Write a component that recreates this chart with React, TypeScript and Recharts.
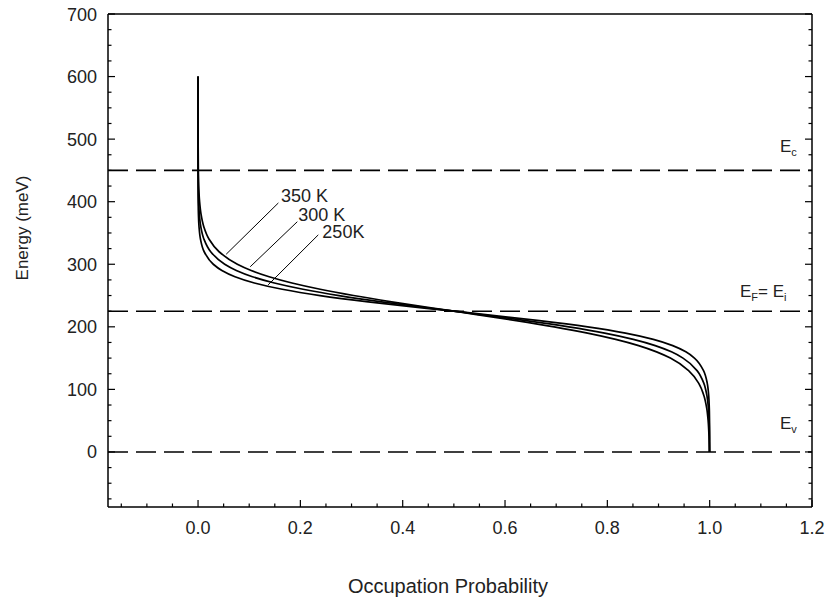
import React from 'react';
import { ComposedChart, Line, XAxis, YAxis, ReferenceLine, ReferenceDot } from 'recharts';

// Energy levels (meV) at which occupation probability was read
const ENERGY_MEV = [600, 550, 500, 450, 420, 400, 380, 360, 340, 320, 300, 290, 280, 270, 260, 250, 240, 230, 225, 220, 210, 200, 190, 180, 170, 160, 150, 130, 110, 90, 70, 50, 25, 0];
const PROB_350K = [0, 0.00002, 0.00011, 0.00058, 0.00155, 0.00301, 0.00583, 0.01125, 0.0216, 0.0411, 0.0768, 0.1038, 0.1389, 0.1836, 0.2387, 0.3039, 0.3782, 0.4586, 0.5, 0.5414, 0.6218, 0.6961, 0.7613, 0.8164, 0.8611, 0.8962, 0.9232, 0.9588, 0.9784, 0.9888, 0.9942, 0.997, 0.9987, 0.9994];
const PROB_300K = [0, 0, 0.00002, 0.00017, 0.00053, 0.00115, 0.00248, 0.00537, 0.01156, 0.0247, 0.0521, 0.0748, 0.1064, 0.1492, 0.2052, 0.2755, 0.3588, 0.4519, 0.5, 0.5481, 0.6412, 0.7245, 0.7948, 0.8508, 0.8936, 0.9252, 0.9479, 0.9753, 0.9885, 0.9946, 0.9975, 0.9989, 0.9996, 0.9998];
const PROB_250K = [0, 0, 0, 0.00003, 0.00012, 0.0003, 0.00075, 0.0019, 0.0048, 0.012, 0.0298, 0.0466, 0.0722, 0.1101, 0.1645, 0.2385, 0.3327, 0.4422, 0.5, 0.5578, 0.6673, 0.7615, 0.8355, 0.8899, 0.9278, 0.9534, 0.9702, 0.988, 0.9952, 0.9981, 0.99925, 0.9997, 0.9999, 1.0];

const X_TICKS = [-0.15, -0.1, -0.05, 0, 0.05, 0.1, 0.15, 0.2, 0.25, 0.3, 0.35, 0.4, 0.45, 0.5, 0.55, 0.6, 0.65, 0.7, 0.75, 0.8, 0.85, 0.9, 0.95, 1.0, 1.05, 1.1, 1.15, 1.2];
const X_LABELED = [0, 0.2, 0.4, 0.6, 0.8, 1.0, 1.2];
const Y_TICKS = [-75, -50, -25, 0, 25, 50, 75, 100, 125, 150, 175, 200, 225, 250, 275, 300, 325, 350, 375, 400, 425, 450, 475, 500, 525, 550, 575, 600, 625, 650, 675, 700];
const Y_LABELED = [0, 100, 200, 300, 400, 500, 600, 700];

// Band energy levels (meV): Ec, EF = Ei, Ev
const LEVEL_EC = 450;
const LEVEL_EF = 225;
const LEVEL_EV = 0;

// Temperature annotations
const TEMP_LABELS = ['350 K', '300 K', '250K'];
const TEMP_LABEL_X = [0.162, 0.196, 0.243];
const TEMP_LABEL_Y = [400, 369, 342];
const LEADER_START_X = [0.157, 0.194, 0.235];
const LEADER_START_Y = [398, 368, 347];
const LEADER_END_X = [0.055, 0.102, 0.137];
const LEADER_END_Y = [316, 296, 267];

const FONT = '"Liberation Sans", Arial, sans-serif';
const TEXT = '#222';

const toSeries = (probs: number[]) => ENERGY_MEV.map((e, i) => ({ p: probs[i], e }));
const S350 = toSeries(PROB_350K);
const S300 = toSeries(PROB_300K);
const S250 = toSeries(PROB_250K);

const isMajor = (v: number, list: number[]) => list.some((m) => Math.abs(m - v) < 1e-6);

const BottomTick = (props: any) => {
  const { x, y, payload } = props;
  const major = isMajor(payload.value, X_LABELED);
  return (
    <g>
      <line x1={x} y1={y} x2={x} y2={y - (major ? 7 : 3.5)} stroke="#000" strokeWidth={1.2} />
      {major && (
        <text x={x} y={y + 27} textAnchor="middle" fontSize={18} fill={TEXT} fontFamily={FONT}>
          {payload.value.toFixed(1)}
        </text>
      )}
    </g>
  );
};

const TopTick = (props: any) => {
  const { x, y, payload } = props;
  const major = isMajor(payload.value, X_LABELED);
  return <line x1={x} y1={y} x2={x} y2={y + (major ? 7 : 3.5)} stroke="#000" strokeWidth={1.2} />;
};

const LeftTick = (props: any) => {
  const { x, y, payload } = props;
  const major = isMajor(payload.value, Y_LABELED);
  return (
    <g>
      <line x1={x} y1={y} x2={x + (major ? 7 : 3.5)} y2={y} stroke="#000" strokeWidth={1.2} />
      {major && (
        <text x={x - 11} y={y + 6.5} textAnchor="end" fontSize={18} fill={TEXT} fontFamily={FONT}>
          {String(payload.value)}
        </text>
      )}
    </g>
  );
};

const RightTick = (props: any) => {
  const { x, y, payload } = props;
  const major = isMajor(payload.value, Y_LABELED);
  return <line x1={x} y1={y} x2={x - (major ? 7 : 3.5)} y2={y} stroke="#000" strokeWidth={1.2} />;
};

const XTitle = (props: any) => {
  const vb = props.viewBox;
  return (
    <text x={vb.x + vb.width / 2 - 12} y={vb.y + 86} textAnchor="middle" fontSize={20} fill={TEXT} fontFamily={FONT}>
      Occupation Probability
    </text>
  );
};

const YTitle = (props: any) => {
  const vb = props.viewBox;
  const cx = vb.x - 26;
  const cy = vb.y + 214;
  return (
    <text x={cx} y={cy} transform={`rotate(-90 ${cx} ${cy})`} textAnchor="middle" dominantBaseline="central" fontSize={17} fill={TEXT} fontFamily={FONT}>
      Energy (meV)
    </text>
  );
};

const makeLevelLabel = (main1: string, sub1: string, main2: string | null, sub2: string | null, fromRight: number, above: number) => (props: any) => {
  const vb = props.viewBox;
  const x = vb.x + vb.width - fromRight;
  const y = vb.y - above;
  return (
    <text x={x} y={y} fontSize={17} fill={TEXT} fontFamily={FONT}>
      <tspan>{main1}</tspan>
      <tspan fontSize={11} dy={4}>{sub1}</tspan>
      {main2 !== null && <tspan fontSize={17} dy={-4}>{main2}</tspan>}
      {sub2 !== null && <tspan fontSize={11} dy={4}>{sub2}</tspan>}
    </text>
  );
};

const EcLabel = makeLevelLabel('E', 'c', null, null, 32, 18);
const EfLabel = makeLevelLabel('E', 'F', '= E', 'i', 72, 14);
const EvLabel = makeLevelLabel('E', 'v', null, null, 32, 23);

const makeTempText = (text: string) => (props: any) => (
  <text x={props.cx} y={props.cy} fontSize={18} fill={TEXT} fontFamily={FONT}>
    {text}
  </text>
);

export default function App() {
  return (
    <div style={{ position: 'absolute', left: 0, top: 0 }}>
      <ComposedChart width={830} height={605} margin={{ top: 13, right: 17, left: 48, bottom: 8 }}>
        <XAxis
          xAxisId={0}
          dataKey="p"
          type="number"
          domain={[-0.176, 1.2]}
          allowDataOverflow
          ticks={X_TICKS}
          interval={0}
          tickSize={0}
          tickMargin={0}
          tickLine={false}
          tick={<BottomTick />}
          axisLine={{ stroke: '#000', strokeWidth: 1.5 }}
          height={90}
          label={<XTitle />}
        />
        <XAxis
          xAxisId="top"
          orientation="top"
          type="number"
          domain={[-0.176, 1.2]}
          allowDataOverflow
          ticks={X_TICKS}
          interval={0}
          tickSize={0}
          tickMargin={0}
          tickLine={false}
          tick={<TopTick />}
          axisLine={{ stroke: '#000', strokeWidth: 1.5 }}
          height={1}
        />
        <YAxis
          yAxisId={0}
          type="number"
          domain={[-88, 700]}
          allowDataOverflow
          ticks={Y_TICKS}
          interval={0}
          tickSize={0}
          tickMargin={0}
          tickLine={false}
          tick={<LeftTick />}
          axisLine={{ stroke: '#000', strokeWidth: 1.5 }}
          width={60}
          label={<YTitle />}
        />
        <YAxis
          yAxisId="right"
          orientation="right"
          type="number"
          domain={[-88, 700]}
          allowDataOverflow
          ticks={Y_TICKS}
          interval={0}
          tickSize={0}
          tickMargin={0}
          tickLine={false}
          tick={<RightTick />}
          axisLine={{ stroke: '#000', strokeWidth: 1.5 }}
          width={1}
        />

        <ReferenceLine y={LEVEL_EC} stroke="#000" strokeWidth={1.6} strokeDasharray="20 8" label={<EcLabel />} />
        <ReferenceLine y={LEVEL_EF} stroke="#000" strokeWidth={1.6} strokeDasharray="20 8" label={<EfLabel />} />
        <ReferenceLine y={LEVEL_EV} stroke="#000" strokeWidth={1.6} strokeDasharray="20 8" label={<EvLabel />} />

        <Line data={S350} dataKey="e" type="monotoneY" stroke="#000" strokeWidth={1.7} dot={false} isAnimationActive={false} />
        <Line data={S300} dataKey="e" type="monotoneY" stroke="#000" strokeWidth={1.7} dot={false} isAnimationActive={false} />
        <Line data={S250} dataKey="e" type="monotoneY" stroke="#000" strokeWidth={1.7} dot={false} isAnimationActive={false} />

        {TEMP_LABELS.map((t, i) => (
          <ReferenceLine
            key={`leader-${t}`}
            segment={[
              { x: LEADER_START_X[i], y: LEADER_START_Y[i] },
              { x: LEADER_END_X[i], y: LEADER_END_Y[i] },
            ]}
            stroke="#000"
            strokeWidth={1}
          />
        ))}
        {TEMP_LABELS.map((t, i) => (
          <ReferenceDot key={`label-${t}`} x={TEMP_LABEL_X[i]} y={TEMP_LABEL_Y[i]} r={0} shape={makeTempText(t)} />
        ))}
      </ComposedChart>
    </div>
  );
}
